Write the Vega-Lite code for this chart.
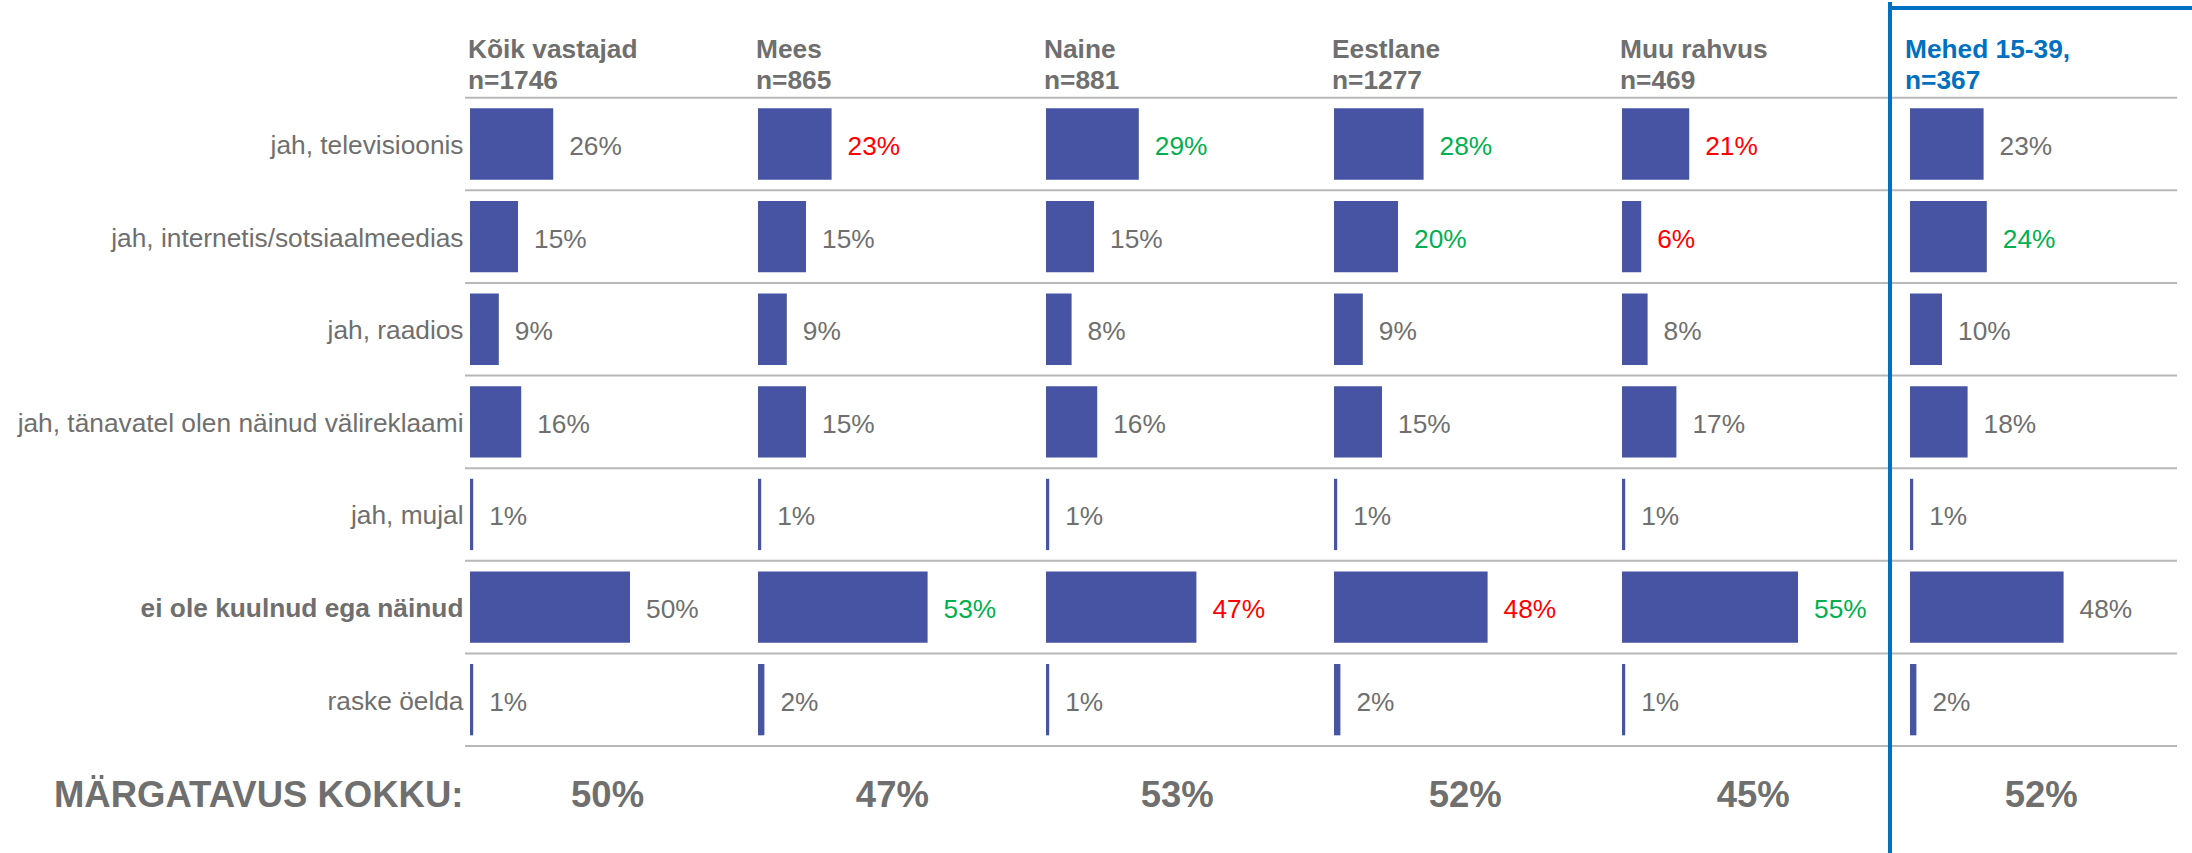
{
  "$schema": "https://vega.github.io/schema/vega-lite/v6.json",
  "padding": {"left": 17, "top": 0, "right": 0, "bottom": 0},
  "background": "white",
  "config": {"view": {"stroke": null}, "font": "Liberation Sans"},
  "datasets": {
    "d": [
      {"g": "Kõik vastajad", "cat": "jah, televisioonis", "v": 0.26, "sig": "n"},
      {"g": "Kõik vastajad", "cat": "jah, internetis/sotsiaalmeedias", "v": 0.15, "sig": "n"},
      {"g": "Kõik vastajad", "cat": "jah, raadios", "v": 0.09, "sig": "n"},
      {"g": "Kõik vastajad", "cat": "jah, tänavatel olen näinud välireklaami", "v": 0.16, "sig": "n"},
      {"g": "Kõik vastajad", "cat": "jah, mujal", "v": 0.01, "sig": "n"},
      {"g": "Kõik vastajad", "cat": "ei ole kuulnud ega näinud", "v": 0.50, "sig": "n"},
      {"g": "Kõik vastajad", "cat": "raske öelda", "v": 0.01, "sig": "n"},
      {"g": "Mees", "cat": "jah, televisioonis", "v": 0.23, "sig": "down"},
      {"g": "Mees", "cat": "jah, internetis/sotsiaalmeedias", "v": 0.15, "sig": "n"},
      {"g": "Mees", "cat": "jah, raadios", "v": 0.09, "sig": "n"},
      {"g": "Mees", "cat": "jah, tänavatel olen näinud välireklaami", "v": 0.15, "sig": "n"},
      {"g": "Mees", "cat": "jah, mujal", "v": 0.01, "sig": "n"},
      {"g": "Mees", "cat": "ei ole kuulnud ega näinud", "v": 0.53, "sig": "up"},
      {"g": "Mees", "cat": "raske öelda", "v": 0.02, "sig": "n"},
      {"g": "Naine", "cat": "jah, televisioonis", "v": 0.29, "sig": "up"},
      {"g": "Naine", "cat": "jah, internetis/sotsiaalmeedias", "v": 0.15, "sig": "n"},
      {"g": "Naine", "cat": "jah, raadios", "v": 0.08, "sig": "n"},
      {"g": "Naine", "cat": "jah, tänavatel olen näinud välireklaami", "v": 0.16, "sig": "n"},
      {"g": "Naine", "cat": "jah, mujal", "v": 0.01, "sig": "n"},
      {"g": "Naine", "cat": "ei ole kuulnud ega näinud", "v": 0.47, "sig": "down"},
      {"g": "Naine", "cat": "raske öelda", "v": 0.01, "sig": "n"},
      {"g": "Eestlane", "cat": "jah, televisioonis", "v": 0.28, "sig": "up"},
      {"g": "Eestlane", "cat": "jah, internetis/sotsiaalmeedias", "v": 0.20, "sig": "up"},
      {"g": "Eestlane", "cat": "jah, raadios", "v": 0.09, "sig": "n"},
      {"g": "Eestlane", "cat": "jah, tänavatel olen näinud välireklaami", "v": 0.15, "sig": "n"},
      {"g": "Eestlane", "cat": "jah, mujal", "v": 0.01, "sig": "n"},
      {"g": "Eestlane", "cat": "ei ole kuulnud ega näinud", "v": 0.48, "sig": "down"},
      {"g": "Eestlane", "cat": "raske öelda", "v": 0.02, "sig": "n"},
      {"g": "Muu rahvus", "cat": "jah, televisioonis", "v": 0.21, "sig": "down"},
      {"g": "Muu rahvus", "cat": "jah, internetis/sotsiaalmeedias", "v": 0.06, "sig": "down"},
      {"g": "Muu rahvus", "cat": "jah, raadios", "v": 0.08, "sig": "n"},
      {"g": "Muu rahvus", "cat": "jah, tänavatel olen näinud välireklaami", "v": 0.17, "sig": "n"},
      {"g": "Muu rahvus", "cat": "jah, mujal", "v": 0.01, "sig": "n"},
      {"g": "Muu rahvus", "cat": "ei ole kuulnud ega näinud", "v": 0.55, "sig": "up"},
      {"g": "Muu rahvus", "cat": "raske öelda", "v": 0.01, "sig": "n"},
      {"g": "Mehed 15-39", "cat": "jah, televisioonis", "v": 0.23, "sig": "n"},
      {"g": "Mehed 15-39", "cat": "jah, internetis/sotsiaalmeedias", "v": 0.24, "sig": "up"},
      {"g": "Mehed 15-39", "cat": "jah, raadios", "v": 0.10, "sig": "n"},
      {"g": "Mehed 15-39", "cat": "jah, tänavatel olen näinud välireklaami", "v": 0.18, "sig": "n"},
      {"g": "Mehed 15-39", "cat": "jah, mujal", "v": 0.01, "sig": "n"},
      {"g": "Mehed 15-39", "cat": "ei ole kuulnud ega näinud", "v": 0.48, "sig": "n"},
      {"g": "Mehed 15-39", "cat": "raske öelda", "v": 0.02, "sig": "n"}
    ],
    "h": [
      {"g": "Kõik vastajad", "title": "Kõik vastajad\nn=1746", "total": 0.50},
      {"g": "Mees", "title": "Mees\nn=865", "total": 0.47},
      {"g": "Naine", "title": "Naine\nn=881", "total": 0.53},
      {"g": "Eestlane", "title": "Eestlane\nn=1277", "total": 0.52},
      {"g": "Muu rahvus", "title": "Muu rahvus\nn=469", "total": 0.45},
      {"g": "Mehed 15-39", "title": "Mehed 15-39,\nn=367", "total": 0.52}
    ]
  },
  "hconcat": [
    {
      "width": 288, "height": 853,
      "encoding": {
        "y": {"field": "cat", "type": "nominal",
          "scale": {"domain": ["_h", "jah, televisioonis", "jah, internetis/sotsiaalmeedias", "jah, raadios", "jah, tänavatel olen näinud välireklaami", "jah, mujal", "ei ole kuulnud ega näinud", "raske öelda", "MÄRGATAVUS KOKKU:"], "range": [3.1, 836.6], "paddingInner": 0, "paddingOuter": 0},
          "axis": {"title": null, "ticks": false, "domain": false, "grid": false, "labelPadding": 2, "labelOverlap": false, "labelFont": "Liberation Sans", "labelColor": "#6f6f6f", "labelLimit": 700,
            "labelFontSize": {"condition": {"test": "datum.value === 'MÄRGATAVUS KOKKU:'", "value": 36.5}, "value": 26.3},
            "labelFontWeight": {"condition": {"test": "datum.value === 'ei ole kuulnud ega näinud' || datum.value === 'MÄRGATAVUS KOKKU:'", "value": "bold"}, "value": "normal"},
            "labelOffset": {"condition": {"test": "datum.value === 'MÄRGATAVUS KOKKU:'", "value": 4}, "value": 2},
            "labelExpr": "datum.value === '_h' ? '' : datum.label"}
        }
      },
      "layer": [
        {"data": {"name": "d"}, "transform": [{"filter": "datum.g === 'Kõik vastajad'"}],
         "mark": {"type": "bar", "color": "#4753a3", "height": {"band": 0.77}},
         "encoding": {
           "x": {"field": "v", "type": "quantitative", "axis": null, "scale": {"domain": [-0.015625, 0.884375], "nice": false}}
         }},
        {"data": {"name": "d"}, "transform": [{"filter": "datum.g === 'Kõik vastajad'"}],
         "mark": {"type": "rule", "color": "#b8b8b8", "strokeWidth": 2},
         "encoding": {"y": {"field": "cat", "type": "nominal", "bandPosition": 0}}},
        {"data": {"name": "d"}, "transform": [{"filter": "datum.g === 'Kõik vastajad'"}],
         "mark": {"type": "text", "align": "left", "baseline": "middle", "dx": 16, "dy": 3, "fontSize": 26.3},
         "encoding": {
           "x": {"field": "v", "type": "quantitative"},
           "text": {"field": "v", "type": "quantitative", "format": ".0%"},
           "color": {"field": "sig", "type": "nominal", "legend": null, "scale": {"domain": ["n", "up", "down"], "range": ["#6f6f6f", "#00b050", "#ff0000"]}}
         }},
        {"data": {"values": [{"cat": "MÄRGATAVUS KOKKU:"}]},
         "mark": {"type": "rule", "color": "#b8b8b8", "strokeWidth": 2},
         "encoding": {"y": {"field": "cat", "type": "nominal", "bandPosition": 0}}},
        {"data": {"name": "h"}, "transform": [{"filter": "datum.g === 'Kõik vastajad'"}],
         "mark": {"type": "text", "align": "left", "baseline": "top", "lineBreak": "\n", "lineHeight": 31, "fontSize": 26.3, "fontWeight": "bold", "color": "#6f6f6f", "dx": -2},
         "encoding": {"x": {"datum": 0, "type": "quantitative"}, "y": {"datum": "_h", "type": "nominal", "bandPosition": 0.347}, "text": {"field": "title"}}},
        {"data": {"name": "h"}, "transform": [{"filter": "datum.g === 'Kõik vastajad'"}],
         "mark": {"type": "text", "align": "center", "baseline": "middle", "dy": 4, "fontSize": 36.5, "fontWeight": "bold", "color": "#6f6f6f"},
         "encoding": {"x": {"datum": 0.43, "type": "quantitative"}, "y": {"datum": "MÄRGATAVUS KOKKU:", "type": "nominal"}, "text": {"field": "total", "type": "quantitative", "format": ".0%"}}}
      ]
    },
    {
      "width": 288, "height": 853,
      "layer": [
        {"data": {"name": "d"}, "transform": [{"filter": "datum.g === 'Mees'"}],
         "mark": {"type": "rule", "color": "#b8b8b8", "strokeWidth": 2},
         "encoding": {"y": {"field": "cat", "type": "nominal", "bandPosition": 0, "axis": null, "scale": {"domain": ["_h", "jah, televisioonis", "jah, internetis/sotsiaalmeedias", "jah, raadios", "jah, tänavatel olen näinud välireklaami", "jah, mujal", "ei ole kuulnud ega näinud", "raske öelda", "MÄRGATAVUS KOKKU:"], "range": [3.1, 836.6], "paddingInner": 0, "paddingOuter": 0}}}},
        {"data": {"values": [{}]},
         "mark": {"type": "rule", "color": "#b8b8b8", "strokeWidth": 2},
         "encoding": {"y": {"datum": "MÄRGATAVUS KOKKU:", "type": "nominal", "bandPosition": 0, "axis": null}}},
        {"data": {"name": "d"}, "transform": [{"filter": "datum.g === 'Mees'"}],
         "mark": {"type": "bar", "color": "#4753a3", "height": {"band": 0.77}},
         "encoding": {
           "x": {"field": "v", "type": "quantitative", "axis": null, "scale": {"domain": [-0.015625, 0.884375], "nice": false}},
           "y": {"field": "cat", "type": "nominal", "axis": null}
         }},
        {"data": {"name": "d"}, "transform": [{"filter": "datum.g === 'Mees'"}],
         "mark": {"type": "text", "align": "left", "baseline": "middle", "dx": 16, "dy": 3, "fontSize": 26.3},
         "encoding": {
           "x": {"field": "v", "type": "quantitative"},
           "y": {"field": "cat", "type": "nominal", "axis": null},
           "text": {"field": "v", "type": "quantitative", "format": ".0%"},
           "color": {"field": "sig", "type": "nominal", "legend": null, "scale": {"domain": ["n", "up", "down"], "range": ["#6f6f6f", "#00b050", "#ff0000"]}}
         }},
        {"data": {"name": "h"}, "transform": [{"filter": "datum.g === 'Mees'"}],
         "mark": {"type": "text", "align": "left", "baseline": "top", "lineBreak": "\n", "lineHeight": 31, "fontSize": 26.3, "fontWeight": "bold", "color": "#6f6f6f", "dx": -2},
         "encoding": {"x": {"datum": 0, "type": "quantitative"}, "y": {"datum": "_h", "type": "nominal", "bandPosition": 0.347, "axis": null}, "text": {"field": "title"}}},
        {"data": {"name": "h"}, "transform": [{"filter": "datum.g === 'Mees'"}],
         "mark": {"type": "text", "align": "center", "baseline": "middle", "dy": 4, "fontSize": 36.5, "fontWeight": "bold", "color": "#6f6f6f"},
         "encoding": {"x": {"datum": 0.42, "type": "quantitative"}, "y": {"datum": "MÄRGATAVUS KOKKU:", "type": "nominal", "axis": null}, "text": {"field": "total", "type": "quantitative", "format": ".0%"}}}
      ]
    },
    {
      "width": 288, "height": 853,
      "layer": [
        {"data": {"name": "d"}, "transform": [{"filter": "datum.g === 'Naine'"}],
         "mark": {"type": "rule", "color": "#b8b8b8", "strokeWidth": 2},
         "encoding": {"y": {"field": "cat", "type": "nominal", "bandPosition": 0, "axis": null, "scale": {"domain": ["_h", "jah, televisioonis", "jah, internetis/sotsiaalmeedias", "jah, raadios", "jah, tänavatel olen näinud välireklaami", "jah, mujal", "ei ole kuulnud ega näinud", "raske öelda", "MÄRGATAVUS KOKKU:"], "range": [3.1, 836.6], "paddingInner": 0, "paddingOuter": 0}}}},
        {"data": {"values": [{}]},
         "mark": {"type": "rule", "color": "#b8b8b8", "strokeWidth": 2},
         "encoding": {"y": {"datum": "MÄRGATAVUS KOKKU:", "type": "nominal", "bandPosition": 0, "axis": null}}},
        {"data": {"name": "d"}, "transform": [{"filter": "datum.g === 'Naine'"}],
         "mark": {"type": "bar", "color": "#4753a3", "height": {"band": 0.77}},
         "encoding": {
           "x": {"field": "v", "type": "quantitative", "axis": null, "scale": {"domain": [-0.015625, 0.884375], "nice": false}},
           "y": {"field": "cat", "type": "nominal", "axis": null}
         }},
        {"data": {"name": "d"}, "transform": [{"filter": "datum.g === 'Naine'"}],
         "mark": {"type": "text", "align": "left", "baseline": "middle", "dx": 16, "dy": 3, "fontSize": 26.3},
         "encoding": {
           "x": {"field": "v", "type": "quantitative"},
           "y": {"field": "cat", "type": "nominal", "axis": null},
           "text": {"field": "v", "type": "quantitative", "format": ".0%"},
           "color": {"field": "sig", "type": "nominal", "legend": null, "scale": {"domain": ["n", "up", "down"], "range": ["#6f6f6f", "#00b050", "#ff0000"]}}
         }},
        {"data": {"name": "h"}, "transform": [{"filter": "datum.g === 'Naine'"}],
         "mark": {"type": "text", "align": "left", "baseline": "top", "lineBreak": "\n", "lineHeight": 31, "fontSize": 26.3, "fontWeight": "bold", "color": "#6f6f6f", "dx": -2},
         "encoding": {"x": {"datum": 0, "type": "quantitative"}, "y": {"datum": "_h", "type": "nominal", "bandPosition": 0.347, "axis": null}, "text": {"field": "title"}}},
        {"data": {"name": "h"}, "transform": [{"filter": "datum.g === 'Naine'"}],
         "mark": {"type": "text", "align": "center", "baseline": "middle", "dy": 4, "fontSize": 36.5, "fontWeight": "bold", "color": "#6f6f6f"},
         "encoding": {"x": {"datum": 0.41, "type": "quantitative"}, "y": {"datum": "MÄRGATAVUS KOKKU:", "type": "nominal", "axis": null}, "text": {"field": "total", "type": "quantitative", "format": ".0%"}}}
      ]
    },
    {
      "width": 288, "height": 853,
      "layer": [
        {"data": {"name": "d"}, "transform": [{"filter": "datum.g === 'Eestlane'"}],
         "mark": {"type": "rule", "color": "#b8b8b8", "strokeWidth": 2},
         "encoding": {"y": {"field": "cat", "type": "nominal", "bandPosition": 0, "axis": null, "scale": {"domain": ["_h", "jah, televisioonis", "jah, internetis/sotsiaalmeedias", "jah, raadios", "jah, tänavatel olen näinud välireklaami", "jah, mujal", "ei ole kuulnud ega näinud", "raske öelda", "MÄRGATAVUS KOKKU:"], "range": [3.1, 836.6], "paddingInner": 0, "paddingOuter": 0}}}},
        {"data": {"values": [{}]},
         "mark": {"type": "rule", "color": "#b8b8b8", "strokeWidth": 2},
         "encoding": {"y": {"datum": "MÄRGATAVUS KOKKU:", "type": "nominal", "bandPosition": 0, "axis": null}}},
        {"data": {"name": "d"}, "transform": [{"filter": "datum.g === 'Eestlane'"}],
         "mark": {"type": "bar", "color": "#4753a3", "height": {"band": 0.77}},
         "encoding": {
           "x": {"field": "v", "type": "quantitative", "axis": null, "scale": {"domain": [-0.015625, 0.884375], "nice": false}},
           "y": {"field": "cat", "type": "nominal", "axis": null}
         }},
        {"data": {"name": "d"}, "transform": [{"filter": "datum.g === 'Eestlane'"}],
         "mark": {"type": "text", "align": "left", "baseline": "middle", "dx": 16, "dy": 3, "fontSize": 26.3},
         "encoding": {
           "x": {"field": "v", "type": "quantitative"},
           "y": {"field": "cat", "type": "nominal", "axis": null},
           "text": {"field": "v", "type": "quantitative", "format": ".0%"},
           "color": {"field": "sig", "type": "nominal", "legend": null, "scale": {"domain": ["n", "up", "down"], "range": ["#6f6f6f", "#00b050", "#ff0000"]}}
         }},
        {"data": {"name": "h"}, "transform": [{"filter": "datum.g === 'Eestlane'"}],
         "mark": {"type": "text", "align": "left", "baseline": "top", "lineBreak": "\n", "lineHeight": 31, "fontSize": 26.3, "fontWeight": "bold", "color": "#6f6f6f", "dx": -2},
         "encoding": {"x": {"datum": 0, "type": "quantitative"}, "y": {"datum": "_h", "type": "nominal", "bandPosition": 0.347, "axis": null}, "text": {"field": "title"}}},
        {"data": {"name": "h"}, "transform": [{"filter": "datum.g === 'Eestlane'"}],
         "mark": {"type": "text", "align": "center", "baseline": "middle", "dy": 4, "fontSize": 36.5, "fontWeight": "bold", "color": "#6f6f6f"},
         "encoding": {"x": {"datum": 0.41, "type": "quantitative"}, "y": {"datum": "MÄRGATAVUS KOKKU:", "type": "nominal", "axis": null}, "text": {"field": "total", "type": "quantitative", "format": ".0%"}}}
      ]
    },
    {
      "width": 288, "height": 853,
      "layer": [
        {"data": {"name": "d"}, "transform": [{"filter": "datum.g === 'Muu rahvus'"}],
         "mark": {"type": "rule", "color": "#b8b8b8", "strokeWidth": 2},
         "encoding": {"y": {"field": "cat", "type": "nominal", "bandPosition": 0, "axis": null, "scale": {"domain": ["_h", "jah, televisioonis", "jah, internetis/sotsiaalmeedias", "jah, raadios", "jah, tänavatel olen näinud välireklaami", "jah, mujal", "ei ole kuulnud ega näinud", "raske öelda", "MÄRGATAVUS KOKKU:"], "range": [3.1, 836.6], "paddingInner": 0, "paddingOuter": 0}}}},
        {"data": {"values": [{}]},
         "mark": {"type": "rule", "color": "#b8b8b8", "strokeWidth": 2},
         "encoding": {"y": {"datum": "MÄRGATAVUS KOKKU:", "type": "nominal", "bandPosition": 0, "axis": null}}},
        {"data": {"name": "d"}, "transform": [{"filter": "datum.g === 'Muu rahvus'"}],
         "mark": {"type": "bar", "color": "#4753a3", "height": {"band": 0.77}},
         "encoding": {
           "x": {"field": "v", "type": "quantitative", "axis": null, "scale": {"domain": [-0.015625, 0.884375], "nice": false}},
           "y": {"field": "cat", "type": "nominal", "axis": null}
         }},
        {"data": {"name": "d"}, "transform": [{"filter": "datum.g === 'Muu rahvus'"}],
         "mark": {"type": "text", "align": "left", "baseline": "middle", "dx": 16, "dy": 3, "fontSize": 26.3},
         "encoding": {
           "x": {"field": "v", "type": "quantitative"},
           "y": {"field": "cat", "type": "nominal", "axis": null},
           "text": {"field": "v", "type": "quantitative", "format": ".0%"},
           "color": {"field": "sig", "type": "nominal", "legend": null, "scale": {"domain": ["n", "up", "down"], "range": ["#6f6f6f", "#00b050", "#ff0000"]}}
         }},
        {"data": {"name": "h"}, "transform": [{"filter": "datum.g === 'Muu rahvus'"}],
         "mark": {"type": "text", "align": "left", "baseline": "top", "lineBreak": "\n", "lineHeight": 31, "fontSize": 26.3, "fontWeight": "bold", "color": "#6f6f6f", "dx": -2},
         "encoding": {"x": {"datum": 0, "type": "quantitative"}, "y": {"datum": "_h", "type": "nominal", "bandPosition": 0.347, "axis": null}, "text": {"field": "title"}}},
        {"data": {"name": "h"}, "transform": [{"filter": "datum.g === 'Muu rahvus'"}],
         "mark": {"type": "text", "align": "center", "baseline": "middle", "dy": 4, "fontSize": 36.5, "fontWeight": "bold", "color": "#6f6f6f"},
         "encoding": {"x": {"datum": 0.41, "type": "quantitative"}, "y": {"datum": "MÄRGATAVUS KOKKU:", "type": "nominal", "axis": null}, "text": {"field": "total", "type": "quantitative", "format": ".0%"}}}
      ]
    },
    {
      "width": 272, "height": 853,
      "layer": [
        {"data": {"name": "d"}, "transform": [{"filter": "datum.g === 'Mehed 15-39'"}],
         "mark": {"type": "rule", "color": "#b8b8b8", "strokeWidth": 2},
         "encoding": {"y": {"field": "cat", "type": "nominal", "bandPosition": 0, "axis": null, "scale": {"domain": ["_h", "jah, televisioonis", "jah, internetis/sotsiaalmeedias", "jah, raadios", "jah, tänavatel olen näinud välireklaami", "jah, mujal", "ei ole kuulnud ega näinud", "raske öelda", "MÄRGATAVUS KOKKU:"], "range": [3.1, 836.6], "paddingInner": 0, "paddingOuter": 0}}}},
        {"data": {"values": [{}]},
         "mark": {"type": "rule", "color": "#b8b8b8", "strokeWidth": 2},
         "encoding": {"y": {"datum": "MÄRGATAVUS KOKKU:", "type": "nominal", "bandPosition": 0, "axis": null}}},
        {"data": {"name": "d"}, "transform": [{"filter": "datum.g === 'Mehed 15-39'"}],
         "mark": {"type": "bar", "color": "#4753a3", "height": {"band": 0.77}},
         "encoding": {
           "x": {"field": "v", "type": "quantitative", "axis": null, "scale": {"domain": [-0.015625, 0.834375], "nice": false}},
           "y": {"field": "cat", "type": "nominal", "axis": null}
         }},
        {"data": {"name": "d"}, "transform": [{"filter": "datum.g === 'Mehed 15-39'"}],
         "mark": {"type": "text", "align": "left", "baseline": "middle", "dx": 16, "dy": 3, "fontSize": 26.3},
         "encoding": {
           "x": {"field": "v", "type": "quantitative"},
           "y": {"field": "cat", "type": "nominal", "axis": null},
           "text": {"field": "v", "type": "quantitative", "format": ".0%"},
           "color": {"field": "sig", "type": "nominal", "legend": null, "scale": {"domain": ["n", "up", "down"], "range": ["#6f6f6f", "#00b050", "#ff0000"]}}
         }},
        {"data": {"name": "h"}, "transform": [{"filter": "datum.g === 'Mehed 15-39'"}],
         "mark": {"type": "text", "align": "left", "baseline": "top", "lineBreak": "\n", "lineHeight": 31, "fontSize": 26.3, "fontWeight": "bold", "color": "#0070c0", "dx": -5},
         "encoding": {"x": {"datum": 0, "type": "quantitative"}, "y": {"datum": "_h", "type": "nominal", "bandPosition": 0.347, "axis": null}, "text": {"field": "title"}}},
        {"data": {"name": "h"}, "transform": [{"filter": "datum.g === 'Mehed 15-39'"}],
         "mark": {"type": "text", "align": "center", "baseline": "middle", "dy": 4, "fontSize": 36.5, "fontWeight": "bold", "color": "#6f6f6f"},
         "encoding": {"x": {"datum": 0.41, "type": "quantitative"}, "y": {"datum": "MÄRGATAVUS KOKKU:", "type": "nominal", "axis": null}, "text": {"field": "total", "type": "quantitative", "format": ".0%"}}},
        {"data": {"values": [{}]},
         "mark": {"type": "rule", "color": "#0070c0", "strokeWidth": 4},
         "encoding": {"x": {"datum": -0.0625, "type": "quantitative"}}},
        {"data": {"values": [{}]},
         "mark": {"type": "rule", "color": "#0070c0", "strokeWidth": 4},
         "encoding": {"x": {"datum": -0.06875, "type": "quantitative"}, "x2": {"datum": 0.88125}, "y": {"datum": "_h", "type": "nominal", "bandPosition": 0.03, "axis": null}}}
      ]
    }
  ],
  "spacing": 0,
  "bounds": "flush"
}
